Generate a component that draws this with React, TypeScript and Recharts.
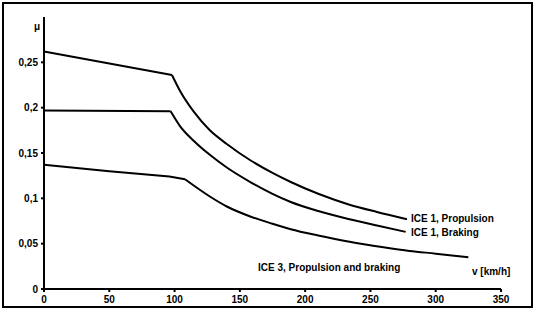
import { LineChart, Line, XAxis, YAxis } from 'recharts';

// ICE 1, propulsion (speed in km/h, adhesion coefficient mu); the first two points are the straight part
const propSpeed = [0, 98, 104, 115, 127, 140, 158, 175, 189, 210, 234, 255, 278];
const propMu = [0.262, 0.236, 0.219, 0.195, 0.175, 0.16, 0.142, 0.128, 0.118, 0.105, 0.093, 0.085, 0.077];

// ICE 1, braking
const brakeSpeed = [0, 97, 104, 115, 127, 140, 158, 175, 189, 210, 234, 255, 277];
const brakeMu = [0.197, 0.196, 0.18, 0.163, 0.148, 0.134, 0.118, 0.105, 0.096, 0.086, 0.077, 0.07, 0.063];

// ICE 3, propulsion and braking; first four points are the straight part
const ice3Speed = [0, 50, 96, 108, 127, 140, 158, 175, 189, 210, 234, 260, 280, 300, 325];
const ice3Mu = [0.137, 0.13, 0.124, 0.121, 0.102, 0.091, 0.08, 0.072, 0.066, 0.059, 0.052, 0.046, 0.042, 0.039, 0.035];

const xTicks = [0, 50, 100, 150, 200, 250, 300, 350];
const yTicks = [0, 0.05, 0.1, 0.15, 0.2, 0.25];

const toPoints = (v: number[], mu: number[]) => v.map((s, i) => ({ v: s, mu: mu[i] }));

// split each curve at the kink: straight part + smooth falling part
const prop = toPoints(propSpeed, propMu);
const brake = toPoints(brakeSpeed, brakeMu);
const ice3 = toPoints(ice3Speed, ice3Mu);
const segments = [
  { key: 'p1', data: prop.slice(0, 2), type: 'linear' },
  { key: 'p2', data: prop.slice(1), type: 'monotone' },
  { key: 'b1', data: brake.slice(0, 2), type: 'linear' },
  { key: 'b2', data: brake.slice(1), type: 'monotone' },
  { key: 'i1', data: ice3.slice(0, 4), type: 'linear' },
  { key: 'i2', data: ice3.slice(3), type: 'monotone' },
];

const font = 'Liberation Sans, Arial, sans-serif';
const tickStyle = { fill: '#000', fontSize: 10, fontWeight: 700, fontFamily: font };
const labelStyle: React.CSSProperties = {
  position: 'absolute',
  fontFamily: font,
  fontSize: 10,
  fontWeight: 700,
  color: '#000',
  lineHeight: '12px',
  whiteSpace: 'nowrap',
};

export default function App() {
  return (
    <div style={{ position: 'absolute', left: 0, top: 0, width: 536, height: 314, background: '#fff' }}>
      <div
        style={{
          position: 'absolute',
          left: 2,
          top: 2,
          width: 527,
          height: 302,
          border: '2px solid #000',
        }}
      />
      <LineChart width={536} height={314} margin={{ top: 17, right: 35, bottom: 0, left: 4 }}>
        <XAxis
          type="number"
          dataKey="v"
          domain={[0, 350]}
          ticks={xTicks}
          allowDuplicatedCategory={false}
          stroke="#000"
          strokeWidth={2}
          tickSize={3}
          tickMargin={4}
          height={25}
          tick={tickStyle}
        />
        <YAxis
          type="number"
          dataKey="mu"
          domain={[0, 0.3]}
          ticks={yTicks}
          stroke="#000"
          strokeWidth={2}
          tickSize={3}
          tickMargin={3}
          width={40}
          tick={tickStyle}
          tickFormatter={(t: number) => String(t).replace('.', ',')}
        />
        {segments.map((s) => (
          <Line
            key={s.key}
            data={s.data}
            dataKey="mu"
            type={s.type as 'linear' | 'monotone'}
            stroke="#000"
            strokeWidth={2}
            dot={false}
            isAnimationActive={false}
          />
        ))}
      </LineChart>
      <div style={{ ...labelStyle, left: 34, top: 21 }}>μ</div>
      <div style={{ ...labelStyle, left: 472, top: 266 }}>v [km/h]</div>
      <div style={{ ...labelStyle, left: 411, top: 213 }}>ICE 1, Propulsion</div>
      <div style={{ ...labelStyle, left: 411, top: 227 }}>ICE 1, Braking</div>
      <div style={{ ...labelStyle, left: 258, top: 262 }}>ICE 3, Propulsion and braking</div>
    </div>
  );
}
